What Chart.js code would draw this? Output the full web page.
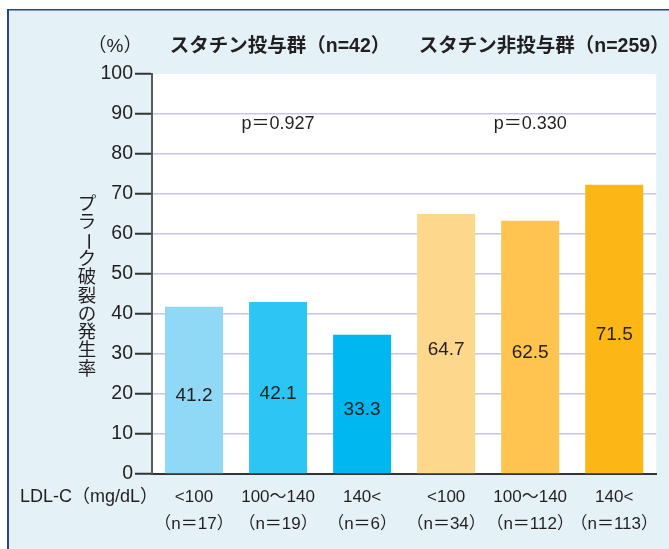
<!DOCTYPE html>
<html>
<head>
<meta charset="utf-8">
<script src="https://cdn.jsdelivr.net/npm/chart.js@4.4.0/dist/chart.umd.min.js"></script>
<style>
    html, body { margin: 0; padding: 0; background: #ffffff; }
    #wrap { width: 669px; height: 549px; }
</style>
</head>
<body>
<div id="wrap"><canvas id="grafico" width="669" height="549"></canvas></div>
<script>
// dados
const categorias = [
    ['<100', '（n＝17）'],
    ['100〜140', '（n＝19）'],
    ['140<', '（n＝6）'],
    ['<100', '（n＝34）'],
    ['100〜140', '（n＝112）'],
    ['140<', '（n＝113）']
];
const alturaBarras = [41.8, 43.0, 34.8, 65.0, 63.3, 72.3];
const rotulosValores = ['41.2', '42.1', '33.3', '64.7', '62.5', '71.5'];
const coresBarras = ['#8fd8f6', '#2cc5f4', '#00b8ef', '#fdd78c', '#fec44f', '#fcb717'];
const titulosGrupos = ['スタチン投与群（n=42）', 'スタチン非投与群（n=259）'];
const valoresP = ['p＝0.927', 'p＝0.330'];
const tituloY = 'プラーク破裂の発生率';

const FONTE = '"Liberation Sans", "Noto Sans CJK JP", sans-serif';

// fundo azul + moldura + area branca
const fundo = {
    id: 'fundo',
    beforeDraw(chart) {
        const { ctx, chartArea } = chart;
        ctx.save();
        ctx.fillStyle = '#ffffff';
        ctx.fillRect(0, 0, chart.width, chart.height);
        ctx.fillStyle = '#e4f2f7';
        ctx.fillRect(8, 10, chart.width - 8, chart.height - 10);
        ctx.fillStyle = '#24448c';
        ctx.fillRect(7, 9, chart.width - 7, 1.5);
        ctx.fillRect(7, 9, 2, chart.height - 9);
        ctx.fillStyle = '#ffffff';
        ctx.fillRect(chartArea.left, chartArea.top, chartArea.right - chartArea.left, chartArea.bottom - chartArea.top);
        ctx.restore();
    }
};

// textos extras
const textos = {
    id: 'textos',
    afterDraw(chart) {
        const { ctx } = chart;
        const x = chart.scales.x;
        const y = chart.scales.y;
        ctx.save();
        ctx.fillStyle = '#231f20';
        ctx.textBaseline = 'middle';
        ctx.textAlign = 'center';

        // (%)
        ctx.font = `19px ${FONTE}`;
        ctx.fillText('（%）', 115, 47);

        // titulos dos grupos
        ctx.font = `bold 19.5px ${FONTE}`;
        const c1 = (x.getPixelForValue(0) + x.getPixelForValue(2)) / 2;
        const c2 = (x.getPixelForValue(3) + x.getPixelForValue(5)) / 2;
        ctx.fillText(titulosGrupos[0], c1 + 2, 47);
        ctx.fillText(titulosGrupos[1], c2 + 14, 47);

        // valores p
        ctx.font = `18px ${FONTE}`;
        ctx.fillText(valoresP[0], c1, y.getPixelForValue(87.5));
        ctx.fillText(valoresP[1], c2, y.getPixelForValue(87.5));

        // LDL-C
        ctx.textAlign = 'right';
        ctx.font = `18px ${FONTE}`;
        ctx.fillText('LDL-C（mg/dL）', 158, 497);

        // titulo vertical
        ctx.textAlign = 'center';
        ctx.font = `18.5px ${FONTE}`;
        let yy = 205;
        for (const ch of tituloY) {
            if (ch === 'ー') {
                ctx.save();
                ctx.translate(87, yy);
                ctx.rotate(Math.PI / 2);
                ctx.fillText(ch, 0, 0);
                ctx.restore();
            } else {
                ctx.fillText(ch, 87, yy);
            }
            yy += 18.3;
        }

        // rotulos dentro das barras
        ctx.font = `19px ${FONTE}`;
        const meta = chart.getDatasetMeta(0);
        meta.data.forEach((bar, i) => {
            const meio = (bar.y + bar.base) / 2 + 6;
            ctx.fillText(rotulosValores[i], bar.x, meio);
        });
        ctx.restore();
    }
};

new Chart(document.getElementById('grafico'), {
    type: 'bar',
    data: {
        labels: categorias,
        datasets: [{
            data: alturaBarras,
            backgroundColor: coresBarras,
            borderWidth: 0,
            barPercentage: 0.69,
            categoryPercentage: 1.0
        }]
    },
    options: {
        responsive: false,
        animation: false,
        events: [],
        layout: { padding: { top: 74, right: 12, left: 0, bottom: 0 } },
        plugins: {
            legend: { display: false },
            title: { display: false },
            tooltip: { enabled: false }
        },
        scales: {
            x: {
                grid: { display: true, drawOnChartArea: false, drawTicks: false },
                border: { color: '#333333', width: 2 },
                ticks: {
                    color: '#231f20',
                    font: { family: FONTE, size: 17, lineHeight: 1.58 },
                    padding: 10,
                    maxRotation: 0,
                    autoSkip: false
                },
                afterFit: (s) => { s.height = 75; }
            },
            y: {
                min: 0,
                max: 100,
                border: { color: '#5a5a5a', width: 2 },
                grid: {
                    color: (c) => (c.tick && (c.tick.value === 100 || c.tick.value === 0)) ? 'rgba(0,0,0,0)' : '#c6c6e6',
                    lineWidth: 1.5,
                    tickColor: '#333333',
                    tickLength: 17,
                    tickWidth: 2
                },
                ticks: {
                    stepSize: 10,
                    color: '#231f20',
                    font: { family: FONTE, size: 19.5 },
                    padding: 2
                },
                afterFit: (s) => { s.width = 152; }
            }
        }
    },
    plugins: [fundo, textos]
});
</script>
</body>
</html>
